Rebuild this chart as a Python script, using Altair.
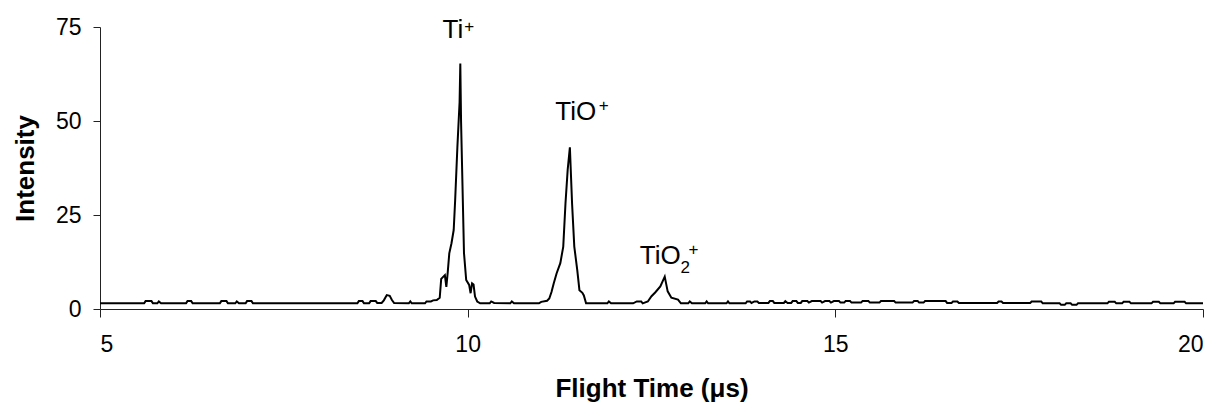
import altair as alt
import pandas as pd

# ---- spectrum ----
flight_time = [
    5.00, 5.60, 5.62, 5.70, 5.72, 5.78, 5.80, 5.83, 6.17, 6.19, 6.24, 6.26,
    6.63, 6.65, 6.72, 6.74, 6.84, 6.86, 6.89, 6.98, 7.00, 7.06, 7.08,
    8.50, 8.52, 8.57, 8.59, 8.66, 8.68, 8.75, 8.77, 8.83, 8.86, 8.90, 8.94,
    8.97, 9.00, 9.20, 9.22, 9.24, 9.42, 9.44, 9.50, 9.53, 9.58, 9.62, 9.64,
    9.67, 9.69, 9.71, 9.73, 9.75, 9.78, 9.81, 9.83, 9.86, 9.89, 9.90, 9.91,
    9.93, 9.95, 9.98, 10.02, 10.04, 10.06, 10.08, 10.10, 10.13, 10.17,
    10.30, 10.32, 10.36, 10.58, 10.60, 10.63, 10.97, 11.00, 11.08, 11.11,
    11.14, 11.17, 11.21, 11.26, 11.30, 11.33, 11.36, 11.39, 11.42, 11.45,
    11.49, 11.52, 11.56, 11.58, 11.61, 11.90, 11.92, 11.95, 12.25, 12.30,
    12.36, 12.38, 12.45, 12.50, 12.55, 12.62, 12.68, 12.72, 12.77, 12.86,
    12.90, 13.00, 13.02, 13.05, 13.23, 13.25, 13.27, 13.52, 13.54, 13.56,
    13.78, 13.80, 13.84, 13.86, 13.90, 13.94, 13.96, 14.09, 14.11, 14.15,
    14.17, 14.30, 14.32, 14.35, 14.40, 14.42, 14.47, 14.49, 14.53, 14.55,
    14.62, 14.64, 14.68, 14.80, 14.82, 14.86, 14.92, 14.94, 14.98, 15.05,
    15.07, 15.12, 15.14, 15.20, 15.22, 15.35, 15.37, 15.45, 15.47, 15.60,
    15.62, 15.80, 15.82, 16.05, 16.07, 16.12, 16.14, 16.20, 16.22, 16.50,
    16.52, 16.58, 16.60, 16.66, 16.68, 17.20, 17.22, 17.26, 17.28, 17.65,
    17.67, 17.80, 17.82, 18.05, 18.07, 18.12, 18.14, 18.20, 18.22, 18.28,
    18.30, 18.70, 18.72, 18.80, 18.82, 18.90, 18.92, 19.00, 19.02, 19.30,
    19.32, 19.40, 19.42, 19.60, 19.62, 19.75, 19.77, 20.00,
]
intensity = [
    1.5, 1.5, 2.1, 2.1, 1.5, 1.5, 2.0, 1.5, 1.5, 2.1, 2.1, 1.5,
    1.5, 2.1, 2.1, 1.5, 1.5, 2.0, 1.5, 1.5, 2.1, 2.1, 1.5,
    1.5, 2.1, 2.1, 1.5, 1.5, 2.1, 2.1, 1.6, 1.6, 2.3, 3.7, 3.5,
    2.4, 1.6, 1.5, 2.0, 1.5, 1.5, 2.0, 2.0, 2.3, 2.4, 3.0, 8.0,
    8.6, 9.0, 5.9, 10.0, 14.8, 17.5, 21.0, 29.0, 43.0, 55.0, 65.3, 50.0,
    32.5, 14.9, 7.7, 6.4, 4.2, 6.8, 6.5, 3.3, 2.0, 1.5,
    1.5, 2.0, 1.6, 1.5, 2.0, 1.5, 1.5, 1.9, 2.2, 2.8,
    4.5, 6.8, 9.5, 12.2, 16.6, 28.0, 37.0, 43.0, 28.0, 16.6,
    10.4, 5.0, 4.3, 3.6, 1.5, 1.5, 2.0, 1.5, 1.5, 2.0,
    2.0, 1.5, 2.0, 3.4, 4.4, 6.0, 8.6, 4.7, 3.0, 2.5,
    1.5, 1.5, 2.0, 1.5, 1.5, 2.0, 1.5, 1.5, 2.0, 1.5,
    1.5, 2.0, 2.0, 1.6, 2.0, 2.0, 1.6, 1.6, 2.1, 2.1,
    1.6, 1.6, 2.1, 1.6, 1.6, 2.1, 2.1, 1.6, 1.6, 2.1,
    2.1, 1.7, 2.1, 2.1, 1.7, 2.1, 2.1, 1.7, 2.1, 2.1,
    1.7, 1.7, 2.1, 2.1, 1.7, 1.7, 2.1, 2.1, 1.7, 1.7,
    2.1, 2.1, 1.7, 1.7, 2.1, 2.1, 1.7, 1.7, 2.1, 2.1,
    1.6, 1.6, 2.0, 2.0, 1.6, 1.6, 2.0, 2.0, 1.6, 1.6,
    2.0, 2.0, 1.5, 1.5, 1.1, 1.1, 1.5, 1.5, 1.1, 1.1,
    1.5, 1.5, 1.9, 1.9, 1.5, 1.5, 1.9, 1.9, 1.5, 1.5,
    1.9, 1.9, 1.5, 1.5, 1.9, 1.9, 1.5, 1.5,
]

# ---- peak labels ----
label_text = ["Ti", "TiO", "TiO"]
label_t = [9.80, 11.47, 12.62]
label_i = [72.0, 50.2, 12.0]

script_text = ["+", "+", "2", "+"]
script_t = [10.02, 11.85, 12.96, 13.07]
script_i = [73.6, 52.6, 9.6, 14.3]

x_ticks = [5, 10, 15, 20]
y_ticks = [0, 25, 50, 75]

FONT = "Liberation Sans"

spec = pd.DataFrame({"t": flight_time, "i": intensity})
labels = pd.DataFrame({"t": label_t, "i": label_i, "s": label_text})
scripts = pd.DataFrame({"t": script_t, "i": script_i, "s": script_text})

xscale = alt.Scale(domain=[5, 20], nice=False, zero=False)
yscale = alt.Scale(domain=[0, 75], nice=False)

x_axis = alt.Axis(
    title="Flight Time (\u03bcs)", values=x_ticks, format="d", grid=False,
    tickSize=8, labelPadding=16, labelFontSize=23, labelFont=FONT,
    titleFont=FONT, titleFontSize=26, titleFontWeight="bold",
    titleBaseline="alphabetic", titleY=87, titleColor="black",
    labelColor="black", domainColor="#222", tickColor="#222",
)
y_axis = alt.Axis(
    title="Intensity", values=y_ticks, format="d", grid=False,
    tickSize=7, labelPadding=12, labelFontSize=23, labelFont=FONT,
    titleFont=FONT, titleFontSize=26, titleFontWeight="bold",
    titleAngle=-90, titleBaseline="alphabetic", titleAlign="center",
    titleX=-67, titleY=141, titleColor="black",
    labelColor="black", domainColor="#222", tickColor="#222",
)

line = alt.Chart(spec).mark_line(color="black", strokeWidth=2).encode(
    x=alt.X("t:Q", scale=xscale, axis=x_axis),
    y=alt.Y("i:Q", scale=yscale, axis=y_axis),
)

lab = alt.Chart(labels).mark_text(
    font=FONT, fontSize=26, color="black", align="center", baseline="alphabetic"
).encode(x=alt.X("t:Q", scale=xscale), y=alt.Y("i:Q", scale=yscale), text="s:N")

sup = alt.Chart(scripts).mark_text(
    font=FONT, fontSize=17, color="black", align="center", baseline="alphabetic"
).encode(x=alt.X("t:Q", scale=xscale), y=alt.Y("i:Q", scale=yscale), text="s:N")

chart = (
    alt.layer(line, lab, sup)
    .properties(
        width=1103, height=282,
        autosize=alt.AutoSizeParams(type="none"),
        padding={"left": 92, "top": 19, "right": 12, "bottom": 94},
        background="white",
    )
    .configure_view(stroke=None)
)

chart.save("out.html", embed_options={"renderer": "svg", "actions": False})
